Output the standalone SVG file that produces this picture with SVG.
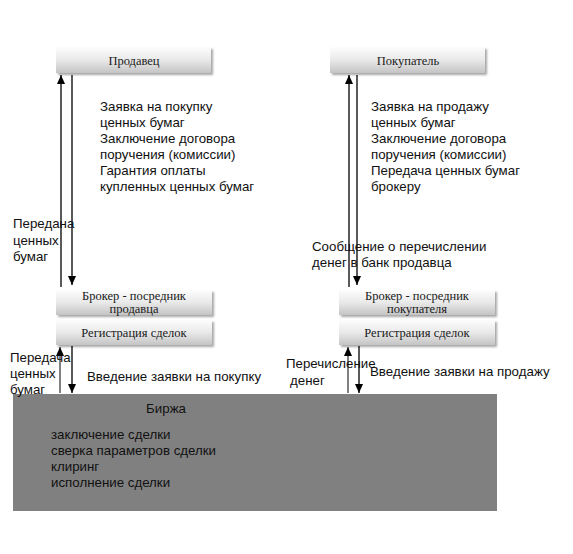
<svg xmlns="http://www.w3.org/2000/svg" width="573" height="554" viewBox="0 0 573 554">
<defs>
<linearGradient id="g" x1="0" y1="0" x2="0" y2="1">
<stop offset="0" stop-color="#fdfdfd"/>
<stop offset="0.5" stop-color="#e9e9e9"/>
<stop offset="1" stop-color="#c4c4c4"/>
</linearGradient>
<filter id="sh" x="-5%" y="-20%" width="115%" height="160%">
<feGaussianBlur in="SourceAlpha" stdDeviation="1.2"/>
<feOffset dx="1.5" dy="1.5"/>
<feComponentTransfer><feFuncA type="linear" slope="0.35"/></feComponentTransfer>
<feMerge><feMergeNode/><feMergeNode in="SourceGraphic"/></feMerge>
</filter>
<marker id="ab" viewBox="0 0 9 8" refX="9" refY="4" markerWidth="9" markerHeight="8" markerUnits="userSpaceOnUse" orient="auto">
<path d="M0,0 L9,4 L0,8 Z" fill="#000"/>
</marker>
</defs>
<style>
.box{fill:url(#g);filter:url(#sh)}
.bt{font-family:"Liberation Serif","Times New Roman",serif;font-size:12.5px;fill:#1a1a1a;text-anchor:middle}
.t{font-family:"Liberation Sans",Arial,sans-serif;font-size:13.3px;fill:#111}
.ln{stroke:#000;stroke-width:1.3;fill:none}
.lg{stroke:#808080;stroke-width:2;fill:none}
</style>
<rect width="573" height="554" fill="#fff"/>

<g id="exchange">
<rect x="13" y="394" width="484" height="117" fill="#808080"/>
<text class="t" x="166" y="413" text-anchor="middle">Биржа</text>
<text class="t" x="51" y="439">заключение сделки</text>
<text class="t" x="51" y="455">сверка параметров сделки</text>
<text class="t" x="51" y="471">клиринг</text>
<text class="t" x="51" y="487">исполнение сделки</text>
</g>

<g id="seller">
<rect class="box" x="56" y="47" width="155" height="26"/>
<text class="bt" x="134" y="65">Продавец</text>
</g>
<g id="buyer">
<rect class="box" x="330" y="47" width="155" height="26"/>
<text class="bt" x="408" y="65">Покупатель</text>
</g>
<g id="broker-seller">
<rect class="box" x="56" y="290" width="156" height="25"/>
<text class="bt" x="134" y="300">Брокер - посредник</text>
<text class="bt" x="134" y="313">продавца</text>
</g>
<g id="reg-seller">
<rect class="box" x="56" y="320" width="156" height="25"/>
<text class="bt" x="134" y="337">Регистрация сделок</text>
</g>
<g id="broker-buyer">
<rect class="box" x="339" y="290" width="156" height="25"/>
<text class="bt" x="417" y="300">Брокер - посредник</text>
<text class="bt" x="417" y="313">покупателя</text>
</g>
<g id="reg-buyer">
<rect class="box" x="339" y="320" width="156" height="25"/>
<text class="bt" x="417" y="337">Регистрация сделок</text>
</g>

<g id="connectors">
<line class="ln" x1="61" y1="287" x2="61" y2="75" marker-end="url(#ab)"/>
<line class="ln" x1="72" y1="75" x2="72" y2="285" marker-end="url(#ab)"/>
<line class="ln" x1="349" y1="287" x2="349" y2="75" marker-end="url(#ab)"/>
<line class="ln" x1="357" y1="75" x2="357" y2="285" marker-end="url(#ab)"/>
<line class="lg" x1="60" y1="393" x2="60" y2="347" marker-end="url(#ab)"/>
<line class="ln" x1="72" y1="346" x2="72" y2="393" marker-end="url(#ab)"/>
<line class="lg" x1="348" y1="393" x2="348" y2="347" marker-end="url(#ab)"/>
<line class="ln" x1="359" y1="346" x2="359" y2="393" marker-end="url(#ab)"/>
</g>

<g id="labels">
<text class="t" x="100" y="111">Заявка на покупку</text>
<text class="t" x="100" y="127">ценных бумаг</text>
<text class="t" x="100" y="143">Заключение договора</text>
<text class="t" x="100" y="159">поручения (комиссии)</text>
<text class="t" x="100" y="175">Гарантия оплаты</text>
<text class="t" x="100" y="191">купленных ценных бумаг</text>

<text class="t" x="371" y="111">Заявка на продажу</text>
<text class="t" x="371" y="127">ценных бумаг</text>
<text class="t" x="371" y="143">Заключение договора</text>
<text class="t" x="371" y="159">поручения (комиссии)</text>
<text class="t" x="371" y="175">Передача ценных бумаг</text>
<text class="t" x="371" y="191">брокеру</text>

<text class="t" x="13" y="228">Передана</text>
<text class="t" x="13" y="244.5">ценных</text>
<text class="t" x="13" y="261">бумаг</text>

<text class="t" x="312" y="251">Сообщение о перечислении</text>
<text class="t" x="312" y="267">денег в банк продавца</text>

<text class="t" x="10" y="362">Передача</text>
<text class="t" x="10" y="378">ценных</text>
<text class="t" x="10" y="394">бумаг</text>
<text class="t" x="87" y="381">Введение заявки на покупку</text>

<text class="t" x="286" y="368">Перечисление</text>
<text class="t" x="290" y="385">денег</text>
<text class="t" x="370" y="376">Введение заявки на продажу</text>
</g>
</svg>
